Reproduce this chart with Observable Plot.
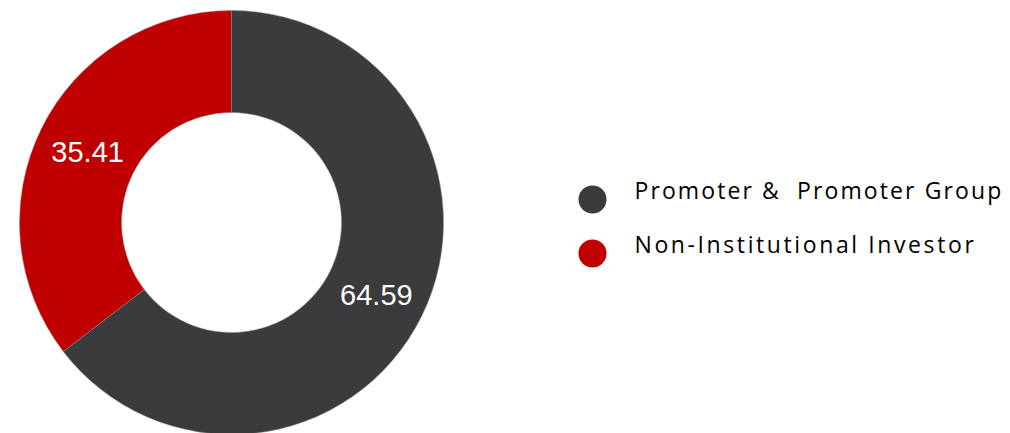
<!DOCTYPE html>
<html>
<head>
<meta charset="utf-8">
<script src="https://cdn.jsdelivr.net/npm/d3@7"></script>
<script src="https://cdn.jsdelivr.net/npm/@observablehq/plot@0.6"></script>
<style>
  html, body { margin: 0; padding: 0; background: #ffffff; }
</style>
</head>
<body>
<div id="chart"></div>
<script>
const categories = ["Promoter &  Promoter Group", "Non-Institutional Investor"];
const values = [64.59, 35.41];
const labels = ["64.59", "35.41"];
const colors = ["#3b3a3c", "#c00000"];

const W = 1010, H = 433;
const cx = 231.5, cy = 222.5, outerR = 212, innerR = 110;

const data = categories.map((c, i) => ({category: c, value: values[i], label: labels[i], color: colors[i]}));
const pie = d3.pie().sort(null).value(d => d.value).startAngle(0).endAngle(2 * Math.PI);
const arcs = pie(data);
const arcGen = d3.arc().innerRadius(innerR).outerRadius(outerR);

const labelData = arcs.map(a => {
  const [dx, dy] = arcGen.centroid(a);
  return {x: cx + dx, y: cy + dy, label: a.data.label};
});

const legendData = data.map((d, i) => ({x: 592, y: 199 + i * 54, category: d.category, color: d.color}));

const donutMark = (index, scales, values, dimensions, context) => {
  const g = d3.create("svg:g");
  const px = scales.x(cx), py = scales.y(cy);
  g.attr("transform", `translate(${px},${py})`);
  g.selectAll("path")
    .data(arcs)
    .join("path")
    .attr("d", arcGen)
    .attr("fill", d => scales.color(d.data.category))
    .attr("stroke", "#8a8a8a")
    .attr("stroke-width", 0.5);
  return g.node();
};

const chart = Plot.plot({
  width: W,
  height: H,
  margin: 0,
  x: {domain: [0, W], range: [0, W], axis: null},
  y: {domain: [0, H], range: [0, H], axis: null},
  color: {domain: categories, range: colors},
  style: {background: "#ffffff"},
  marks: [
    donutMark,
    Plot.text(labelData, {
      x: "x", y: "y", text: "label",
      fill: "#ffffff", fontSize: 29,
      fontFamily: "Liberation Sans, Arial, sans-serif",
      textAnchor: "middle", dy: 1
    }),
    Plot.dot(legendData, {x: "x", y: "y", r: 14, fill: d => d.category, stroke: null}),
    Plot.text(legendData, {
      x: "x", y: "y", text: "category",
      dx: 42, dy: -8, textAnchor: "start",
      fill: "#000000", fontSize: 23,
      fontFamily: "Open Sans, sans-serif"
    })
  ]
});

const textGroups = d3.select(chart).selectAll('g[aria-label="text"]').nodes();
const legendGroup = textGroups[textGroups.length - 1];
d3.select(legendGroup).selectAll("text")
  .style("letter-spacing", (d, i) => i === 0 ? "2.1px" : "2.6px");

document.getElementById("chart").appendChild(chart);
</script>
</body>
</html>
